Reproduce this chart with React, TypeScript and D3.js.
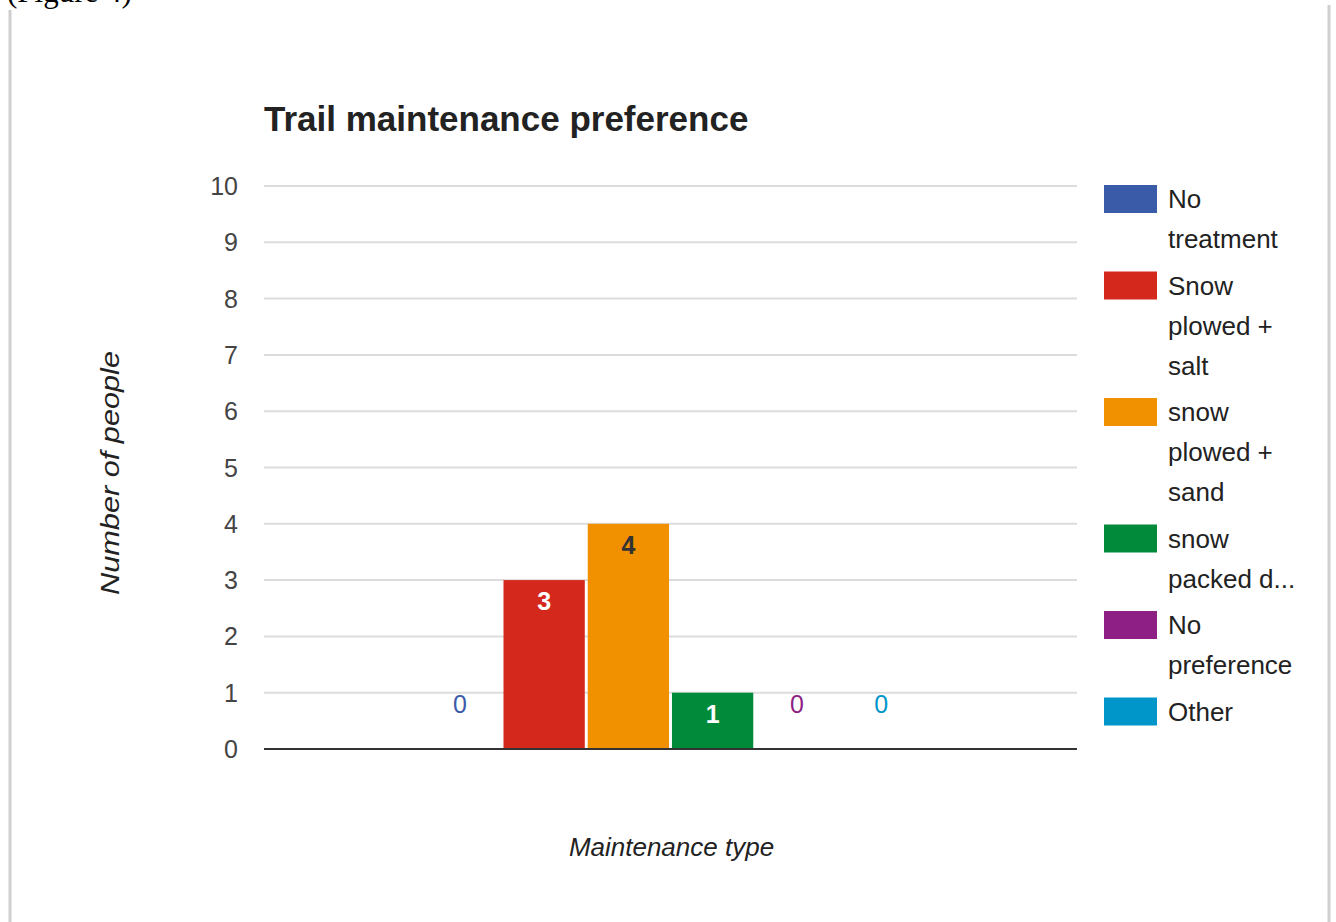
import React from "react";
import * as d3 from "d3";

// Survey responses: one column per maintenance option
const series = [
  "No treatment",
  "Snow plowed + salt",
  "snow plowed + sand",
  "snow packed down",
  "No preference",
  "Other",
];
const counts = [0, 3, 4, 1, 0, 0];
const seriesColors = ["#3a5ba8", "#d5281d", "#f29100", "#008a3a", "#8d1f85", "#0096c9"];
const valueLabelColors = ["#3a5ba8", "#ffffff", "#333333", "#ffffff", "#8d1f85", "#0096c9"];
// Legend entries as they wrap in the narrow legend column
const legendLines = [
  ["No", "treatment"],
  ["Snow", "plowed +", "salt"],
  ["snow", "plowed +", "sand"],
  ["snow", "packed d..."],
  ["No", "preference"],
  ["Other"],
];
const yTicks = [0, 1, 2, 3, 4, 5, 6, 7, 8, 9, 10];
const categories = [""];

const W = 1336;
const H = 922;
const plot = { left: 264, right: 1077, top: 186, bottom: 749 };
const FONT = "'Liberation Sans', Arial, Helvetica, sans-serif";

export default function App() {
  const y = d3.scaleLinear().domain([0, 10]).range([plot.bottom, plot.top]);
  // single category; the bar group takes 61.8% of the category width
  const xCat = d3
    .scaleBand<string>()
    .domain(categories)
    .range([plot.left, plot.right])
    .paddingInner(0)
    .paddingOuter(0.309);
  const xSeries = d3
    .scaleBand<string>()
    .domain(series)
    .range([0, xCat.bandwidth()])
    .paddingInner(0.035);

  // legend layout
  const legendX = 1104;
  const legendTextX = 1168;
  const lineH = 40;
  const itemGap = 6.5;
  let cursor = 199;
  const legendItems = legendLines.map((lines, i) => {
    const item = { lines, center: cursor, color: seriesColors[i] };
    cursor += lines.length * lineH + itemGap;
    return item;
  });

  return (
    <svg
      width={W}
      height={H}
      style={{ position: "absolute", left: 0, top: 0, background: "#ffffff" }}
    >
      {/* page caption above the chart frame */}
      <text x={7} y={2} fontFamily="'Liberation Serif', 'Times New Roman', serif" fontSize={31} fill="#000">
        (Figure 4)
      </text>
      {/* frame edges */}
      <line x1={10} x2={10} y1={10} y2={H} stroke="#cfcfcf" strokeWidth={3} />
      <line x1={1329} x2={1329} y1={5} y2={H} stroke="#cfcfcf" strokeWidth={3} />

      <text x={264} y={131} fontFamily={FONT} fontWeight="bold" fontSize={35} fill="#222">
        Trail maintenance preference
      </text>

      {/* gridlines and y tick labels */}
      {yTicks.map((t) => (
        <g key={t}>
          {t !== 0 && (
            <line x1={plot.left} x2={plot.right} y1={y(t)} y2={y(t)} stroke="#dcdcdc" strokeWidth={2} />
          )}
          <text
            x={238}
            y={y(t) + 9}
            textAnchor="end"
            fontFamily={FONT}
            fontSize={25}
            fill="#444"
          >
            {t}
          </text>
        </g>
      ))}

      {/* columns */}
      {series.map((s, i) => {
        const x0 = (xCat("") ?? 0) + (xSeries(s) ?? 0);
        const bw = xSeries.bandwidth();
        const top = y(counts[i]);
        const h = y(0) - top;
        const labelCenter = counts[i] > 0 ? top + 21 : y(0) - 45;
        return (
          <g key={s}>
            {h > 0 && <rect x={x0} y={top} width={bw} height={h} fill={seriesColors[i]} />}
            <text
              x={x0 + bw / 2}
              y={labelCenter + 9}
              textAnchor="middle"
              fontFamily={FONT}
              fontSize={25}
              fontWeight={counts[i] > 0 ? "bold" : "normal"}
              fill={valueLabelColors[i]}
            >
              {counts[i]}
            </text>
          </g>
        );
      })}

      {/* baseline */}
      <line x1={plot.left} x2={plot.right} y1={y(0)} y2={y(0)} stroke="#333" strokeWidth={2} />

      {/* axis titles */}
      <text
        x={(plot.left + plot.right) / 2 + 1}
        y={856}
        textAnchor="middle"
        fontFamily={FONT}
        fontStyle="italic"
        fontSize={26}
        fill="#222"
      >
        Maintenance type
      </text>
      <text
        transform={`translate(119, 473) rotate(-90)`}
        textAnchor="middle"
        fontFamily={FONT}
        fontStyle="italic"
        fontSize={25}
        textLength={244}
        lengthAdjust="spacingAndGlyphs"
        fill="#222"
      >
        Number of people
      </text>

      {/* legend */}
      {legendItems.map((it, i) => (
        <g key={i}>
          <rect x={legendX} y={it.center - 14} width={53} height={28} fill={it.color} />
          {it.lines.map((ln, j) => (
            <text
              key={j}
              x={legendTextX}
              y={it.center + j * lineH + 9}
              fontFamily={FONT}
              fontSize={26}
              fill="#222"
            >
              {ln}
            </text>
          ))}
        </g>
      ))}
    </svg>
  );
}
